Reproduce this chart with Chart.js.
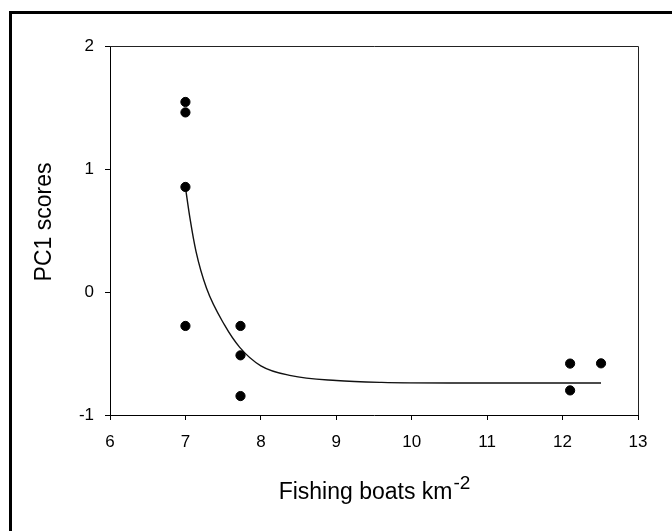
<!DOCTYPE html>
<html>
<head>
<meta charset="utf-8">
<script src="https://cdn.jsdelivr.net/npm/chart.js@4"></script>
<style>
    html, body { margin: 0; padding: 0; background: #fff; }
    #wrap { width: 672px; height: 531px; }
</style>
</head>
<body>
<div id="wrap"><canvas id="myChart" width="672" height="531"></canvas></div>
<script>
const FONT = "'Liberation Sans', Arial, sans-serif";

// observed scores
const boatsX = [7, 7, 7, 7, 7.73, 7.73, 7.73, 12.1, 12.1, 12.51];
const pc1Y = [1.545, 1.46, 0.854, -0.276, -0.276, -0.515, -0.846, -0.582, -0.80, -0.58];

// fitted curve
const fitX = [7.0, 7.06, 7.14, 7.28, 7.52, 7.72, 8.0, 8.4, 9.0, 9.6, 10.5, 11.5, 12.51];
const fitY = [0.85, 0.60, 0.33, 0.03, -0.27, -0.45, -0.60, -0.68, -0.72, -0.735, -0.74, -0.74, -0.74];

const xTitle = 'Fishing boats km';
const xTitleSup = '-2';
const yTitle = 'PC1 scores';

const data = {
    datasets: [{
        label: 'PC1',
        data: boatsX.map((x, i) => ({x: x, y: pc1Y[i]})),
        backgroundColor: '#000',
        borderColor: '#000',
        pointRadius: 4.6,
        pointHoverRadius: 4.6,
        showLine: false,
        order: 1
    }, {
        label: 'fit',
        data: fitX.map((x, i) => ({x: x, y: fitY[i]})),
        borderColor: '#111',
        borderWidth: 1.4,
        pointRadius: 0,
        showLine: true,
        cubicInterpolationMode: 'monotone',
        order: 2
    }]
};

const framePlugin = {
    id: 'frame',
    beforeDraw(chart) {
        const ctx = chart.ctx;
        ctx.save();
        ctx.fillStyle = '#000';
        ctx.fillRect(9, 11, 3, 520);
        ctx.fillRect(9, 11, 663, 3);
        ctx.restore();
    },
    afterDraw(chart) {
        const ctx = chart.ctx;
        const a = chart.chartArea;
        ctx.save();
        // top and right edges of the plot box
        ctx.strokeStyle = '#222';
        ctx.lineWidth = 1;
        ctx.beginPath();
        ctx.moveTo(a.left, a.top + 0.5);
        ctx.lineTo(a.right + 0.5, a.top + 0.5);
        ctx.lineTo(a.right + 0.5, a.bottom);
        ctx.stroke();

        // axis titles
        ctx.fillStyle = '#000';
        ctx.font = '23px ' + FONT;
        const w1 = ctx.measureText(xTitle).width;
        ctx.font = '19px ' + FONT;
        const w2 = ctx.measureText(xTitleSup).width;
        const x0 = (a.left + a.right) / 2 - (w1 + w2) / 2;
        ctx.textBaseline = 'alphabetic';
        ctx.textAlign = 'left';
        ctx.font = '23px ' + FONT;
        ctx.fillText(xTitle, x0, 499);
        ctx.font = '19px ' + FONT;
        ctx.fillText(xTitleSup, x0 + w1 + 1, 489);

        ctx.translate(45, 222);
        ctx.rotate(-Math.PI / 2);
        ctx.font = '23px ' + FONT;
        ctx.textAlign = 'center';
        ctx.textBaseline = 'middle';
        ctx.fillText(yTitle, 0, 0);
        ctx.restore();
    }
};

const config = {
    type: 'scatter',
    data: data,
    options: {
        responsive: false,
        animation: false,
        layout: {
            padding: {left: 0, top: 46, right: 34, bottom: 0}
        },
        plugins: {
            legend: {display: false},
            tooltip: {enabled: false}
        },
        scales: {
            x: {
                type: 'linear',
                min: 6,
                max: 13,
                afterFit: (s) => { s.height = 116; },
                ticks: {
                    stepSize: 1,
                    color: '#000',
                    padding: 12,
                    font: {family: FONT, size: 17}
                },
                grid: {
                    drawOnChartArea: false,
                    tickLength: 5,
                    tickColor: '#000'
                },
                border: {color: '#000', width: 1},
                title: {display: false}
            },
            y: {
                type: 'linear',
                min: -1,
                max: 2,
                afterFit: (s) => { s.width = 110; },
                ticks: {
                    stepSize: 1,
                    color: '#000',
                    padding: 11,
                    font: {family: FONT, size: 17}
                },
                grid: {
                    drawOnChartArea: false,
                    tickLength: 5,
                    tickColor: '#000'
                },
                border: {color: '#000', width: 1},
                title: {display: false}
            }
        }
    },
    plugins: [framePlugin]
};

const myChart = new Chart(
    document.getElementById('myChart'),
    config
);
</script>
</body>
</html>
